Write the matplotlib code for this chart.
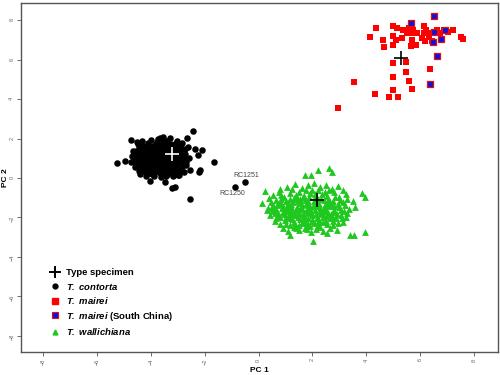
import matplotlib
matplotlib.use("Agg")
import matplotlib.pyplot as plt
from matplotlib.lines import Line2D

plt.rcParams['font.family'] = ['Liberation Sans', 'DejaVu Sans']
plt.rcParams['mathtext.fontset'] = 'custom'
plt.rcParams['mathtext.rm'] = 'Liberation Sans'
plt.rcParams['mathtext.it'] = 'Liberation Sans:italic'
plt.rcParams['mathtext.bf'] = 'Liberation Sans:bold'
plt.rcParams['mathtext.bfit'] = 'Liberation Sans:bold:italic'

# T. contorta (PC1, PC2)
contorta = [
    (-4.62, 0.95), (-4.55, 1.20), (-4.50, 0.70), (-4.45, 1.45), (-4.42, 0.48), (-4.38, 1.05),
    (-4.33, 0.82), (-4.30, 1.62), (-4.28, 1.30), (-4.25, 0.35), (-4.21, 0.60), (-4.18, 1.12),
    (-4.15, 0.92), (-4.12, 1.48), (-4.10, 1.75), (-4.08, 0.25), (-4.05, 0.72), (-4.02, 1.25),
    (-3.98, 1.02), (-3.95, 0.50), (-3.93, 1.60), (-3.90, 0.85), (-3.87, 1.38), (-3.85, 0.30),
    (-3.82, 1.15), (-3.80, 0.65), (-3.77, 1.82), (-3.74, 0.95), (-3.72, 1.50), (-3.70, 0.42),
    (-3.67, 1.22), (-3.64, 0.78), (-3.62, 1.68), (-3.60, 1.05), (-3.57, 0.55), (-3.54, 1.35),
    (-3.52, 0.20), (-3.50, 0.88), (-3.47, 1.58), (-3.45, 1.12), (-3.42, 0.62), (-3.40, 1.85),
    (-3.38, 0.95), (-3.35, 0.35), (-3.33, 1.42), (-3.30, 0.75), (-3.28, 1.20), (-3.25, 1.70),
    (-3.22, 0.48), (-3.20, 1.00), (-3.17, 1.52), (-3.14, 0.28), (-3.12, 0.82), (-3.10, 1.30),
    (-3.07, 0.58), (-3.04, 1.62), (-3.02, 1.05), (-2.99, 0.40), (-2.96, 1.35), (-2.93, 0.78),
    (-2.90, 1.15), (-2.86, 0.55), (-2.83, 1.45), (-2.80, 0.92), (-2.76, 0.30), (-2.72, 1.22),
    (-2.68, 0.68), (-2.64, 1.58), (-2.60, 1.00), (-4.70, 1.10), (-4.75, 0.80), (-4.68, 1.35),
    (-4.58, 0.55), (-4.48, 1.72), (-4.40, 0.22), (-4.35, 1.88), (-4.20, 0.10), (-4.00, 1.95),
    (-3.90, 0.08), (-3.75, 2.00), (-3.62, 0.05), (-3.55, 1.95), (-3.45, 0.10), (-3.30, 2.02),
    (-3.18, 0.12), (-3.05, 1.85), (-2.95, 0.15), (-2.85, 1.75), (-4.25, 1.00), (-4.10, 0.45),
    (-3.95, 1.30), (-3.85, 0.95), (-3.70, 1.05), (-3.55, 0.80), (-3.50, 1.25), (-3.40, 0.50),
    (-3.35, 1.10), (-3.25, 0.90), (-3.65, 1.40), (-3.90, 1.10), (-4.05, 0.95), (-3.75, 0.70),
    (-3.60, 0.90),
    (-4.52, 1.02), (-4.47, 0.88), (-4.40, 1.25), (-4.35, 0.62), (-4.30, 1.10), (-4.22, 0.80),
    (-4.17, 1.35), (-4.14, 0.55), (-4.07, 1.12), (-4.03, 0.38), (-3.99, 1.45), (-3.96, 0.75),
    (-3.92, 1.18), (-3.88, 0.60), (-3.84, 1.50), (-3.80, 0.85), (-3.78, 1.28), (-3.73, 0.52),
    (-3.69, 1.62), (-3.66, 0.95), (-3.63, 1.18), (-3.58, 0.70), (-3.56, 1.50), (-3.53, 1.00),
    (-3.48, 0.42), (-3.46, 1.38), (-3.43, 0.85), (-3.39, 1.62), (-3.37, 1.20), (-3.32, 0.62),
    (-3.29, 1.45), (-3.27, 0.40), (-3.23, 1.12), (-3.19, 0.72), (-3.15, 1.40), (-3.13, 0.98),
    (-3.08, 1.75), (-3.06, 0.72), (-3.00, 1.20), (-2.97, 0.95), (-2.92, 1.55), (-2.88, 0.38),
    (-2.82, 1.10), (-2.78, 0.70), (-2.74, 1.45), (-2.70, 0.95), (-4.60, 0.75), (-4.57, 1.35),
    (-4.46, 0.35), (-4.44, 1.60), (-4.32, 1.45), (-4.27, 0.45), (-4.13, 1.62), (-3.97, 0.20),
    (-3.82, 1.70), (-3.68, 0.25), (-3.52, 1.72), (-3.36, 0.22), (-3.22, 1.58), (-3.09, 0.42),
    # outliers
    (-5.28, 0.78), (-4.97, 0.86), (-4.76, 1.93), (-4.51, 1.84), (-3.67, 2.01), (-3.55, 2.10),
    (-2.43, 2.38), (-2.65, 2.01), (-2.37, 1.47), (-2.12, 1.42), (-2.27, 1.17), (-1.65, 0.83),
    (-2.21, 0.32), (-2.18, 0.42), (-2.55, 0.41), (-4.04, -0.15), (-3.48, -0.19), (-3.23, -0.52),
    (-3.11, -0.44), (-2.55, -1.07), (-2.70, 0.81), (-2.99, 0.15),
    # RC1251, RC1250
    (-0.51, -0.19), (-0.86, -0.44),
]

# T. mairei
mairei = [
    (2.96, 3.57), (3.56, 4.86), (4.14, 7.14), (4.35, 7.60), (4.61, 7.00), (4.67, 6.62),
    (4.34, 4.25), (4.86, 4.08), (5.18, 4.11), (5.01, 4.48), (4.99, 5.13), (4.98, 5.84),
    (5.48, 5.89), (5.49, 5.38), (5.58, 4.94), (5.70, 4.52), (6.37, 5.50), (5.01, 7.73),
    (5.13, 7.60), (5.01, 7.21), (5.11, 7.00), (4.98, 6.75), (5.32, 7.09), (5.38, 7.48),
    (5.53, 7.43), (5.60, 7.60), (5.75, 7.51), (5.87, 7.34), (5.70, 7.02), (5.67, 6.68),
    (5.85, 6.75), (5.73, 7.34), (5.50, 7.34), (6.14, 7.73), (6.24, 7.51), (6.14, 7.34),
    (6.18, 6.95), (6.34, 7.17), (6.43, 6.95), (6.49, 7.34), (6.64, 7.51), (6.74, 7.34),
    (6.88, 7.51), (7.05, 7.39), (7.24, 7.48), (7.52, 7.17), (7.61, 7.05), (6.28, 7.34),
    (6.07, 7.09),
]

# T. mairei (South China)
mairei_sc = [
    (5.65, 7.85), (6.53, 8.19), (6.53, 7.41), (6.47, 6.87), (6.77, 7.07), (6.93, 7.48),
    (6.62, 6.16), (6.37, 4.75),
]

# T. wallichiana
wallichiana = [
    (1.05, -0.45), (1.35, -0.30), (1.60, -0.52), (1.85, -0.38), (2.05, -0.25), (2.30, -0.48),
    (2.50, -0.35), (2.72, -0.55), (2.95, -0.42), (3.15, -0.60), (0.80, -0.58),
    (0.55, -0.85), (0.75, -0.72), (0.95, -0.95), (1.15, -0.78), (1.30, -1.00), (1.50, -0.70),
    (1.70, -0.90), (1.90, -0.75), (2.10, -0.98), (2.35, -0.80), (2.55, -0.92), (2.80, -0.72),
    (3.00, -0.95), (3.25, -0.82), (0.40, -1.00),
    (0.45, -1.20), (0.65, -1.10), (0.85, -1.30), (1.02, -1.15), (1.20, -1.32), (1.38, -1.08),
    (1.55, -1.25), (1.72, -1.12), (1.88, -1.35), (2.05, -1.18), (2.25, -1.30), (2.42, -1.10),
    (2.60, -1.28), (2.78, -1.15), (2.95, -1.32), (3.12, -1.20), (3.30, -1.05),
    (0.30, -1.60), (0.50, -1.45), (0.70, -1.65), (0.88, -1.50), (1.05, -1.70), (1.22, -1.42),
    (1.40, -1.62), (1.58, -1.48), (1.75, -1.68), (1.92, -1.45), (2.10, -1.62), (2.28, -1.50),
    (2.45, -1.70), (2.62, -1.42), (2.80, -1.60), (2.98, -1.48), (3.18, -1.65), (3.35, -1.55),
    (0.42, -1.90), (0.60, -1.80), (0.78, -2.00), (0.95, -1.85), (1.12, -2.05), (1.30, -1.78),
    (1.48, -1.98), (1.65, -1.82), (1.82, -2.02), (2.00, -1.88), (2.18, -2.05), (2.35, -1.80),
    (2.52, -1.95), (2.70, -1.85), (2.88, -2.02), (3.05, -1.90), (3.25, -2.00),
    (0.60, -2.20), (0.80, -2.35), (0.98, -2.15), (1.15, -2.38), (1.32, -2.22), (1.50, -2.40),
    (1.68, -2.18), (1.85, -2.32), (2.02, -2.20), (2.20, -2.40), (2.38, -2.25), (2.55, -2.35),
    (2.75, -2.18), (2.95, -2.30), (3.15, -2.25),
    (0.90, -2.55), (1.10, -2.70), (1.30, -2.50), (1.50, -2.65), (1.72, -2.52), (1.95, -2.75),
    (2.15, -2.58), (2.40, -2.70), (2.65, -2.55), (2.90, -2.62),
    (1.20, -1.55), (1.45, -1.85), (1.60, -1.35), (1.80, -1.55), (1.95, -1.72), (2.15, -1.40),
    (2.30, -1.85), (1.35, -1.90), (1.70, -2.10), (2.05, -2.30), (1.05, -1.45), (0.90, -1.75),
    (2.50, -1.55), (2.65, -2.05), (1.55, -1.05), (1.85, -1.15), (2.20, -1.05), (1.00, -2.00),
    (1.25, -2.10), (2.45, -1.35), (1.40, -0.85), (2.00, -0.60), (2.60, -1.10), (0.70, -1.35),
    (1.90, -2.45), (1.60, -2.30), (2.25, -2.15), (1.15, -1.90), (2.75, -1.75), (0.85, -1.05),
    (0.55, -1.35), (0.62, -1.55), (0.72, -1.90), (0.80, -1.20), (0.92, -1.40), (0.98, -1.62),
    (1.08, -1.28), (1.12, -1.82), (1.18, -1.05), (1.25, -1.68), (1.28, -1.22), (1.35, -2.35),
    (1.42, -1.45), (1.45, -1.15), (1.52, -1.72), (1.55, -2.10), (1.62, -1.58), (1.65, -0.95),
    (1.68, -1.95), (1.75, -1.30), (1.78, -2.28), (1.82, -1.78), (1.88, -0.98), (1.90, -1.62),
    (1.98, -2.12), (2.02, -1.42), (2.08, -0.80), (2.12, -1.85), (2.18, -1.25), (2.22, -2.25),
    (2.28, -1.68), (2.32, -1.08), (2.38, -1.98), (2.42, -1.52), (2.48, -0.70), (2.52, -2.18),
    (2.55, -1.20), (2.58, -1.78), (2.68, -1.30), (2.72, -1.95), (2.82, -1.42), (2.85, -0.95),
    (2.90, -1.82), (3.02, -1.12), (3.08, -1.62), (3.10, -2.05), (3.20, -1.38), (1.00, -2.35),
    (1.40, -2.55), (1.80, -2.60), (2.30, -2.50), (2.75, -2.40), (0.65, -2.05), (0.50, -1.70),
    (3.28, -1.80), (1.25, -0.55), (1.75, -0.60), (2.20, -0.62), (2.62, -0.60),
    # outliers
    (2.61, 0.49), (2.74, 0.29), (2.22, 0.41), (1.72, 0.15), (1.94, 0.15), (0.23, -0.66),
    (0.11, -1.28), (0.36, -1.54), (3.83, -0.78), (3.95, -0.95), (3.52, -1.17), (3.58, -1.45),
    (3.39, -2.89), (3.54, -2.89), (3.95, -2.76), (2.03, -3.20), (1.16, -2.89), (2.53, -2.81),
    (0.85, -0.86),
]

# type specimens
type_black = [(5.28, 6.07), (2.16, -1.12)]
type_white = [(-3.21, 1.20)]

labels = ["RC1251", "RC1250"]
label_pos = [(-0.45, 0.13), (-0.98, -0.80)]

fig = plt.figure(figsize=(5, 3.75), dpi=100)
ax = fig.add_axes([0.041, 0.061, 0.954, 0.932])

ax.scatter([p[0] for p in contorta], [p[1] for p in contorta], s=22, c='black', marker='o', lw=0)
ax.scatter([p[0] for p in mairei], [p[1] for p in mairei], s=21, c='#ff0000', marker='s', lw=0)
ax.scatter([p[0] for p in mairei_sc], [p[1] for p in mairei_sc], s=21, c='#1010e0', marker='s',
           edgecolors='#e01010', linewidths=0.9)
ax.scatter([p[0] for p in wallichiana], [p[1] for p in wallichiana], s=24, c='#1ec81e', marker='^', lw=0)
ax.scatter([p[0] for p in type_black], [p[1] for p in type_black], s=90, c='black', marker='+', lw=1.2)
ax.scatter([p[0] for p in type_white], [p[1] for p in type_white], s=90, c='white', marker='+', lw=1.2)

for t, (x, y) in zip(labels, label_pos):
    ax.text(x, y, t, fontsize=5, color='#444444', ha='center', va='center')

ax.set_xlim(-8.85, 8.88)
ax.set_ylim(-8.83, 8.89)
ax.set_xticks(range(-8, 9, 2))
ax.set_yticks(range(-8, 9, 2))
ax.tick_params(labelsize=4, colors='#555555', length=3, width=0.6, pad=1.5)
for lab in ax.get_xticklabels() + ax.get_yticklabels():
    lab.set_rotation(90)
    lab.set_color('#666666')
for sp in ax.spines.values():
    sp.set_color('#555555')
    sp.set_linewidth(1.0)
ax.set_xlabel("PC 1", fontsize=6, fontweight='bold', va='center')
ax.set_ylabel("PC 2", fontsize=6, fontweight='bold', va='center')
ax.xaxis.set_label_coords(0.5, -0.052)
ax.yaxis.set_label_coords(-0.032, 0.5)

handles = [
    Line2D([], [], ls='', marker='+', color='black', ms=8, mew=1.4),
    Line2D([], [], ls='', marker='o', color='black', ms=3.5),
    Line2D([], [], ls='', marker='s', color='#ff0000', ms=4),
    Line2D([], [], ls='', marker='s', mfc='#1010e0', mec='#e01010', ms=4, mew=0.8),
    Line2D([], [], ls='', marker='^', color='#1ec81e', ms=3.5),
]
names = ["Type specimen", r"$\mathbfit{T.\ contorta}$", r"$\mathbfit{T.\ mairei}$",
         r"$\mathbfit{T.\ mairei}$ (South China)", r"$\mathbfit{T.\ wallichiana}$"]
leg = ax.legend(handles, names, loc='lower left', bbox_to_anchor=(0.042, 0.018), frameon=False,
                prop={'size': 6.8, 'weight': 'bold'}, handletextpad=0.55, labelspacing=0.38,
                handlelength=1.2)

fig.savefig("out.png", dpi=100)
